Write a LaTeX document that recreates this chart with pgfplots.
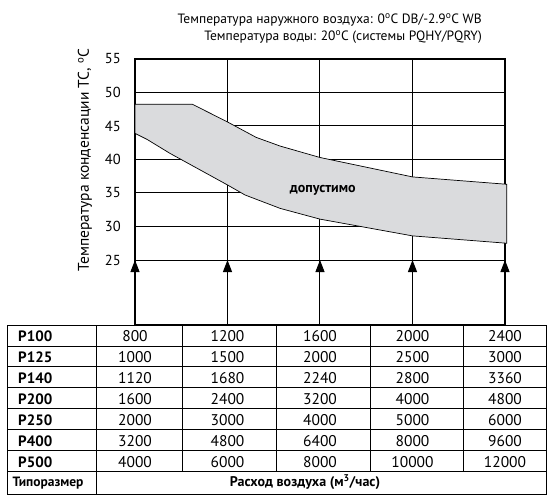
\documentclass[border=0pt]{standalone}
\usepackage{pgfplots}
\pgfplotsset{compat=1.18}
\usepackage{fontspec}
\setmainfont{PT Sans}
\usetikzlibrary{arrows.meta}
\definecolor{bandgray}{HTML}{DADBDD}
\begin{document}
\begin{tikzpicture}[x=1pt,y=1pt]
\useasboundingbox (0,0) rectangle (547,495);
% titles
\node[anchor=base east,inner sep=0pt,font=\fontsize{13.5}{13.5}\selectfont] at (482,471) {Температура наружного воздуха: 0\textsuperscript{o}C DB/-2.9\textsuperscript{o}C WB};
\node[anchor=base east,inner sep=0pt,font=\fontsize{13.5}{13.5}\selectfont] at (482,454.5) {Температура воды: 20\textsuperscript{o}C (системы PQHY/PQRY)};
% y label
\node[rotate=90,inner sep=0pt,font=\fontsize{15.5}{15.5}\selectfont] at (85,335) {Температура конденсации TC, \textsuperscript{o}C};
\begin{axis}[
  at={(135pt,170pt)}, anchor=south west, scale only axis,
  width=370pt, height=266pt,
  xmin=0, xmax=4, ymin=15.3, ymax=55,
  clip=false,
  xtick={0,1,2,3,4}, xticklabels={},
  ytick={25,30,35,40,45,50,55},
  grid=major, major grid style={black, line width=1pt},
  axis line style={black, line width=1.3pt},
  tick style={draw=none},
  /pgf/number format/assume math mode=true,
  yticklabel style={font=\fontsize{14.5}{14.5}\selectfont, inner sep=0pt, xshift=-14pt},
]
\addplot[fill=bandgray, draw=black, line width=0.7pt] coordinates {
 (0,48.25) (0.62,48.25) (1.0,45.6) (1.31,43.3) (1.57,42.0) (2.0,40.3) (3.0,37.4) (4.02,36.3)
 (4.02,27.5) (3.0,28.6) (2.0,31.1) (1.57,32.7) (1.19,34.7) (1.0,36.2) (0.38,40.9) (0.13,43.0) (0,43.9)
} -- cycle;
\addplot[black, line width=1pt, -{Triangle[width=9pt,length=12pt]}] coordinates {(0,22.5) (0,25)};
\addplot[black, line width=1pt, -{Triangle[width=9pt,length=12pt]}] coordinates {(1,22.5) (1,25)};
\addplot[black, line width=1pt, -{Triangle[width=9pt,length=12pt]}] coordinates {(2,22.5) (2,25)};
\addplot[black, line width=1pt, -{Triangle[width=9pt,length=12pt]}] coordinates {(3,22.5) (3,25)};
\addplot[black, line width=1pt, -{Triangle[width=9pt,length=12pt]}] coordinates {(4,22.5) (4,25)};
\node[font=\bfseries\fontsize{14}{14}\selectfont] at (axis cs:2.03,35.4) {допустимо};
\end{axis}
% table
\begin{scope}[line width=0.9pt, black]
\draw (7.3,0.5) rectangle (546.5,170);
\foreach \k in {1,...,7} { \draw (7.3,{170-20.96*\k}) -- (546.5,{170-20.96*\k}); }
\draw (96,0.5) -- (96,170);
\foreach \xx in {182.7,276,370.3,463.7} { \draw (\xx,{170-20.96*7}) -- (\xx,170); }
\end{scope}
\foreach \lab [count=\k from 0] in {P100,P125,P140,P200,P250,P400,P500} {
  \node[anchor=base west,inner sep=0pt,font=\bfseries\fontsize{15}{15}\selectfont] at (18,{170-20.96*\k-16.5}) {\lab};
}
\foreach \a/\b/\c/\d/\e [count=\k from 0] in {800/1200/1600/2000/2400,1000/1500/2000/2500/3000,1120/1680/2240/2800/3360,1600/2400/3200/4000/4800,2000/3000/4000/5000/6000,3200/4800/6400/8000/9600,4000/6000/8000/10000/12000} {
  \foreach \v/\xx in {\a/135,\b/227.5,\c/320,\d/412.5,\e/505} {
    \node[anchor=base,inner sep=0pt,font=\fontsize{15.5}{15.5}\selectfont] at (\xx,{170-20.96*\k-16.5}) {\v};
  }
}
\node[anchor=base west,inner sep=0pt,font=\bfseries\fontsize{13.5}{13.5}\selectfont] at (12.5,8) {Типоразмер};
\node[anchor=base,inner sep=0pt,font=\bfseries\fontsize{14}{14}\selectfont] at (305,8) {Расход воздуха (м\textsuperscript{3}/час)};
\end{tikzpicture}
\end{document}
